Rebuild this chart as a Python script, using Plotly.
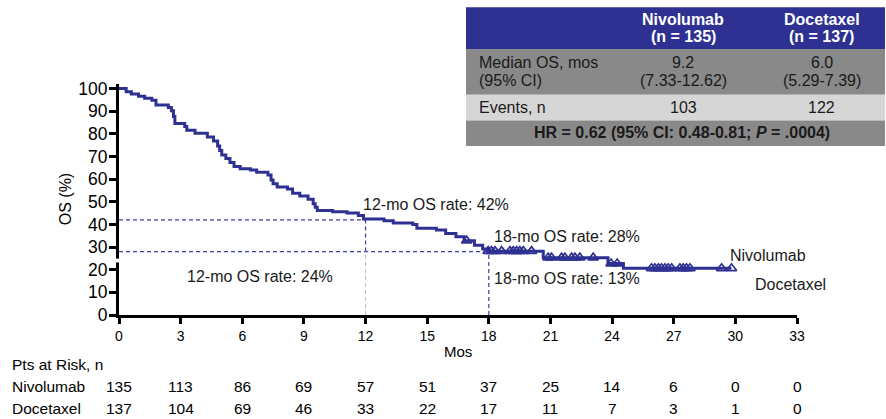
import numpy as np
import plotly.graph_objects as go

# ---- Kaplan-Meier data (nivolumab arm): drop times (months) and survival after each drop (%)
niv_step_t = [0, 0.35, 0.6, 0.95, 1.25, 1.6, 1.8, 2.4, 2.55, 2.65, 2.72, 3.2, 3.3, 3.7,
              4.3, 4.6, 4.8, 4.9, 5.0, 5.2, 5.4, 5.6, 5.9, 6.4, 6.7, 7.25, 7.4, 7.5,
              7.7, 8.2, 8.45, 8.8, 9.2, 9.45, 9.55, 9.65, 10.4, 11.1, 11.65, 11.9,
              12.9, 13.35, 14.3, 14.5, 15.45, 15.9, 16.4, 16.8, 17.3, 17.7, 17.95,
              20.65, 23.8, 24.55]
niv_step_s = [100, 98.6, 97.6, 96.6, 95.7, 94.8, 92.7, 91.6, 90.2, 87.6, 84.6, 83.2, 81.6, 80.3,
              78.6, 76.8, 74.6, 72.6, 70.6, 69.1, 67.3, 65.6, 64.6, 64.0, 63.0, 61.8, 59.6, 57.9,
              56.5, 55.6, 53.8, 52.6, 51.1, 49.1, 47.6, 46.1, 45.6, 45.0, 43.9, 42.4,
              41.6, 40.6, 40.0, 38.3, 37.5, 36.0, 34.6, 32.8, 30.8, 29.1, 28.2,
              25.3, 22.7, 20.6]
niv_last_t = 29.81
niv_censor_t = [16.92, 17.97, 18.13, 18.3, 18.62, 19.03, 19.19, 19.35, 19.51, 19.68, 20.08,
                20.89, 21.05, 21.54, 21.7, 22.03, 22.19, 22.43, 23.08, 23.95, 24.25,
                25.92, 26.08, 26.25, 26.4, 26.57, 26.73, 26.9, 27.3, 27.46, 27.62, 27.79,
                29.33, 29.81]

# landmark rates (%)
rate_12_niv, rate_18_niv = 42, 28
rate_12_doc, rate_18_doc = 24, 13

# ---- axis ticks and patients at risk
month_ticks = [0, 3, 6, 9, 12, 15, 18, 21, 24, 27, 30, 33]
os_ticks = [0, 10, 20, 30, 40, 50, 60, 70, 80, 90, 100]
risk_niv = [135, 113, 86, 69, 57, 51, 37, 25, 14, 6, 0, 0]
risk_doc = [137, 104, 69, 46, 33, 22, 17, 11, 7, 3, 1, 0]

# ---- summary table
arm_names = ["Nivolumab", "Docetaxel"]
arm_n = [135, 137]
median_os = ["9.2", "6.0"]
median_ci = ["(7.33-12.62)", "(5.29-7.39)"]
events = [103, 122]
hr_text = "HR = 0.62 (95% CI: 0.48-0.81; <i>P</i> = .0004)"

NAVY = "#2E3192"
FONT = "Liberation Sans, Arial, sans-serif"

# plot-area geometry in pixels
W, H = 886, 419
L, R, B, T = 119, 797, 315, 83.5
Y_MAX = 102


def px(x):
    return (x - L) / (R - L)


def py(y):
    return (B - y) / (B - T)


fig = go.Figure()

# survival curve
curve_x = niv_step_t + [niv_last_t]
curve_y = niv_step_s + [niv_step_s[-1]]
fig.add_trace(go.Scatter(x=curve_x, y=curve_y, mode="lines", line_shape="hv",
                         line=dict(color=NAVY, width=3), hoverinfo="skip"))

# censor marks sit on the step function
idx = np.searchsorted(np.array(niv_step_t), np.array(niv_censor_t), side="right") - 1
censor_y = np.array(niv_step_s)[idx]
fig.add_trace(go.Scatter(x=niv_censor_t, y=censor_y, mode="markers",
                         marker=dict(symbol="triangle-up-open", size=9, color=NAVY,
                                     line=dict(width=1.7, color=NAVY)),
                         hoverinfo="skip"))

# landmark reference lines
dash = dict(color="#3B3DA8", width=1.2, dash="4px,3px")
fig.add_shape(type="line", x0=0, x1=12, y0=rate_12_niv, y1=rate_12_niv, line=dash)
fig.add_shape(type="line", x0=0, x1=18, y0=rate_18_niv, y1=rate_18_niv, line=dash)
fig.add_shape(type="line", x0=12, x1=12, y0=rate_18_niv, y1=rate_12_niv, line=dash)
fig.add_shape(type="line", x0=12, x1=12, y0=0, y1=rate_18_niv,
              line=dict(color="#B9BBE6", width=1, dash="4px,3px"))
fig.add_shape(type="line", x0=18, x1=18, y0=0, y1=rate_18_niv, line=dash)

# y-axis break
fig.add_shape(type="rect", xref="paper", yref="paper",
              x0=px(116), x1=px(122.5), y0=py(262.3), y1=py(258.5),
              fillcolor="white", line=dict(width=0), layer="above")

ann = []


def text(x, y, s, size=16, color="#1a1a1a", xanchor="left", **kw):
    ann.append(dict(x=px(x), y=py(y), xref="paper", yref="paper", text=s, showarrow=False,
                    xanchor=xanchor, yanchor="middle",
                    font=dict(family=FONT, size=size, color=color), **kw))


# landmark labels
text(360.5, 204, f"12-mo OS rate: {rate_12_niv}%")
text(491.5, 236, f"18-mo OS rate: {rate_18_niv}%")
text(491.5, 278.5, f"18-mo OS rate: {rate_18_doc}%")
text(184.5, 276, f"12-mo OS rate: {rate_12_doc}%")

# arm labels
text(727.5, 255, arm_names[0])
text(752.5, 284, arm_names[1])

# axis titles
text(458, 352, "Mos", size=15, color="black", xanchor="center")
text(65, 199, "OS (%)", size=16, color="black", xanchor="center", textangle=-90)

# patients at risk
text(10, 364.5, "Pts at Risk, n", size=15.5, color="black")
text(10, 386.5, arm_names[0], size=15.5, color="black")
text(10, 409, arm_names[1], size=15.5, color="black")
for m, a, b in zip(month_ticks, risk_niv, risk_doc):
    xm = L + (R - L) * m / month_ticks[-1]
    text(xm, 386.5, str(a), size=15.5, color="black", xanchor="center")
    text(xm, 409, str(b), size=15.5, color="black", xanchor="center")

# summary table
TX0, TX1 = 466, 885
rows = [(6.7, 48.3, NAVY), (48.3, 94.3, "#898989"), (94.3, 120.0, "#D6D6D6"),
        (120.0, 145.7, "#898989")]
for y0, y1, c in rows:
    fig.add_shape(type="rect", xref="paper", yref="paper",
                  x0=px(TX0), x1=px(TX1), y0=py(y1), y1=py(y0),
                  fillcolor=c, line=dict(width=0), layer="above")

col_x = [683, 821.5]
for cx, name, n, med, ci, ev in zip(col_x, arm_names, arm_n, median_os, median_ci, events):
    text(cx, 18.5, f"<b>{name}</b>", color="white", xanchor="center")
    text(cx, 36, f"<b>(n = {n})</b>", color="white", xanchor="center")
    text(cx, 62, med, xanchor="center")
    text(cx, 79.5, ci, xanchor="center")
    text(cx, 107, str(ev), xanchor="center")
text(476.5, 62, "Median OS, mos")
text(476.5, 79.5, "(95% CI)")
text(476.5, 107, "Events, n")
text(682, 132, f"<b>{hr_text}</b>", xanchor="center")

fig.update_layout(
    width=W, height=H,
    margin=dict(l=L, r=W - R, t=T, b=H - B),
    paper_bgcolor="white", plot_bgcolor="white",
    showlegend=False,
    annotations=ann,
    font=dict(family=FONT, color="black"),
    xaxis=dict(range=[0, month_ticks[-1]], tickvals=month_ticks, showgrid=False,
               zeroline=False, showline=True, linecolor="black", linewidth=3,
               ticks="outside", ticklen=6, tickwidth=2.5, tickcolor="black",
               tickfont=dict(size=14, family=FONT, color="black")),
    yaxis=dict(range=[0, Y_MAX], tickvals=os_ticks, showgrid=False,
               zeroline=False, showline=True, linecolor="black", linewidth=3,
               ticks="outside", ticklen=7, tickwidth=2.5, tickcolor="black",
               ticklabelstandoff=-2,
               tickfont=dict(size=17.5, family=FONT, color="black")),
)

fig.write_html("out.html")
